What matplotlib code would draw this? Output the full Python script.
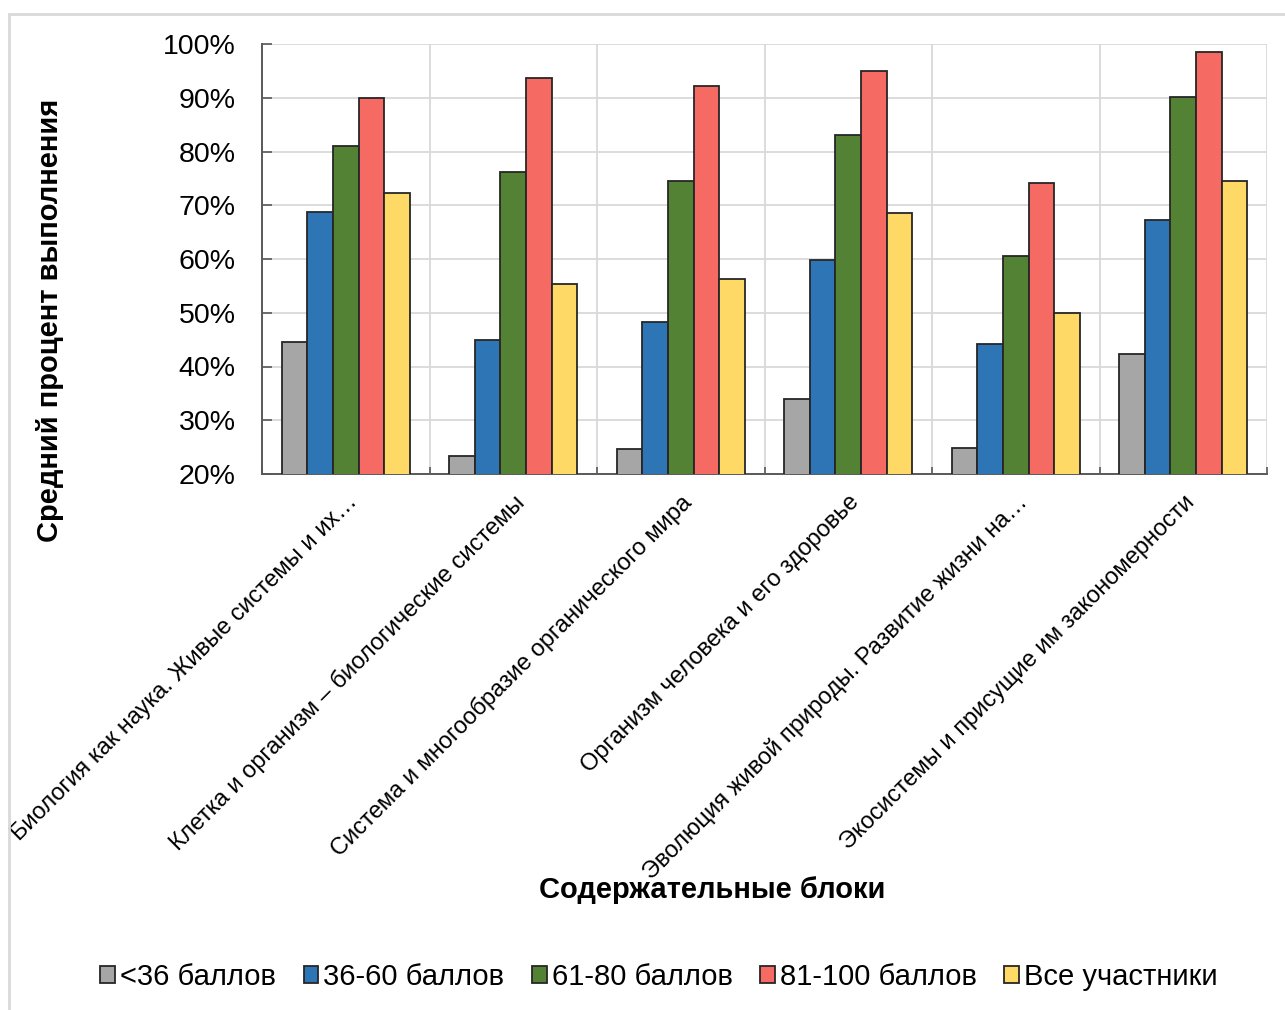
import matplotlib
matplotlib.use("Agg")
import matplotlib.pyplot as plt
import numpy as np
from matplotlib.patches import Rectangle
from matplotlib.ticker import FuncFormatter
from matplotlib.transforms import ScaledTranslation

plt.rcParams["font.family"] = ["Liberation Sans", "DejaVu Sans"]

# Средний процент выполнения по содержательным блокам
blocks = [
    "Биология как наука. Живые системы и их…",
    "Клетка и организм – биологические системы",
    "Система и многообразие органического мира",
    "Организм человека и его здоровье",
    "Эволюция живой природы. Развитие жизни на…",
    "Экосистемы и присущие им закономерности",
]
group_names = ["<36 баллов", "36-60 баллов", "61-80 баллов", "81-100 баллов", "Все участники"]

below_36 = [44.6, 23.4, 24.6, 33.9, 24.9, 42.3]
from_36_to_60 = [68.7, 44.9, 48.2, 59.9, 44.2, 67.3]
from_61_to_80 = [81.0, 76.1, 74.5, 83.1, 60.6, 90.2]
from_81_to_100 = [90.0, 93.7, 92.1, 95.0, 74.2, 98.5]
all_participants = [72.3, 55.3, 56.3, 68.5, 49.9, 74.5]

series = [below_36, from_36_to_60, from_61_to_80, from_81_to_100, all_participants]
colors = ["#A6A6A6", "#2E75B6", "#548235", "#F56B64", "#FFD966"]

W, H = 1285, 1010
fig = plt.figure(figsize=(W / 100, H / 100), dpi=100)

# светло-серая рамка области диаграммы
fig.patches.append(Rectangle((9 / W, -0.05), 1.2, 1 - 14 / H + 0.05,
                             transform=fig.transFigure, fill=False,
                             edgecolor="#D9D9D9", lw=2, zorder=0))

ax = fig.add_axes([262 / W, 1 - 474 / H, (1267 - 262) / W, (474 - 44) / H])

x = np.arange(len(blocks))
bar_w = 0.153
for k, (vals, col, name) in enumerate(zip(series, colors, group_names)):
    ax.bar(x + (k - 2) * bar_w, vals, width=bar_w, color=col,
           edgecolor="#262626", linewidth=1.3, label=name, zorder=3)

ax.set_xlim(-0.5, len(blocks) - 0.5)
ax.set_ylim(20, 100)
ax.set_yticks(np.arange(20, 101, 10))
ax.yaxis.set_major_formatter(FuncFormatter(lambda v, _: f"{v:.0f}%"))
ax.tick_params(axis="y", direction="in", length=7, width=1.2, color="#595959",
               labelsize=20.5, pad=19)

ax.set_xticks(x)
ax.set_xticklabels(blocks, rotation=45, ha="right", va="center",
                   rotation_mode="anchor", fontsize=17)
ax.tick_params(axis="x", which="major", length=0, pad=18)
# небольшой сдвиг подписей категорий вправо
shift = ScaledTranslation(8 / 100, 0, fig.dpi_scale_trans)
for lbl in ax.get_xticklabels():
    lbl.set_transform(lbl.get_transform() + shift)
ax.set_xticks(np.arange(-0.5, len(blocks), 1.0), minor=True)
ax.tick_params(axis="x", which="minor", direction="in", length=5, width=1.2,
               color="#595959")

ax.grid(axis="y", color="#D9D9D9", lw=1.3, zorder=0)
ax.grid(axis="x", which="minor", color="#D9D9D9", lw=1.3, zorder=0)

for side in ["top", "right"]:
    ax.spines[side].set_visible(False)
ax.spines["left"].set_color("#595959")
ax.spines["bottom"].set_color("#595959")
ax.spines["left"].set_linewidth(1.4)
ax.spines["bottom"].set_linewidth(1.4)

fig.text(50 / W, 1 - 320 / H, "Средний процент выполнения", rotation=90,
         ha="center", va="center", fontsize=21, fontweight="bold")
fig.text(712 / W, 1 - 890 / H, "Содержательные блоки",
         ha="center", va="center", fontsize=21, fontweight="bold")

handles, labels = ax.get_legend_handles_labels()
fig.legend(handles, labels, loc="center", bbox_to_anchor=(659 / W, 1 - 977 / H),
           ncol=5, frameon=False, fontsize=21, handlelength=0.5, handleheight=0.5,
           handletextpad=0.17, columnspacing=0.95)

fig.savefig("out.png", dpi=100, facecolor="white")
